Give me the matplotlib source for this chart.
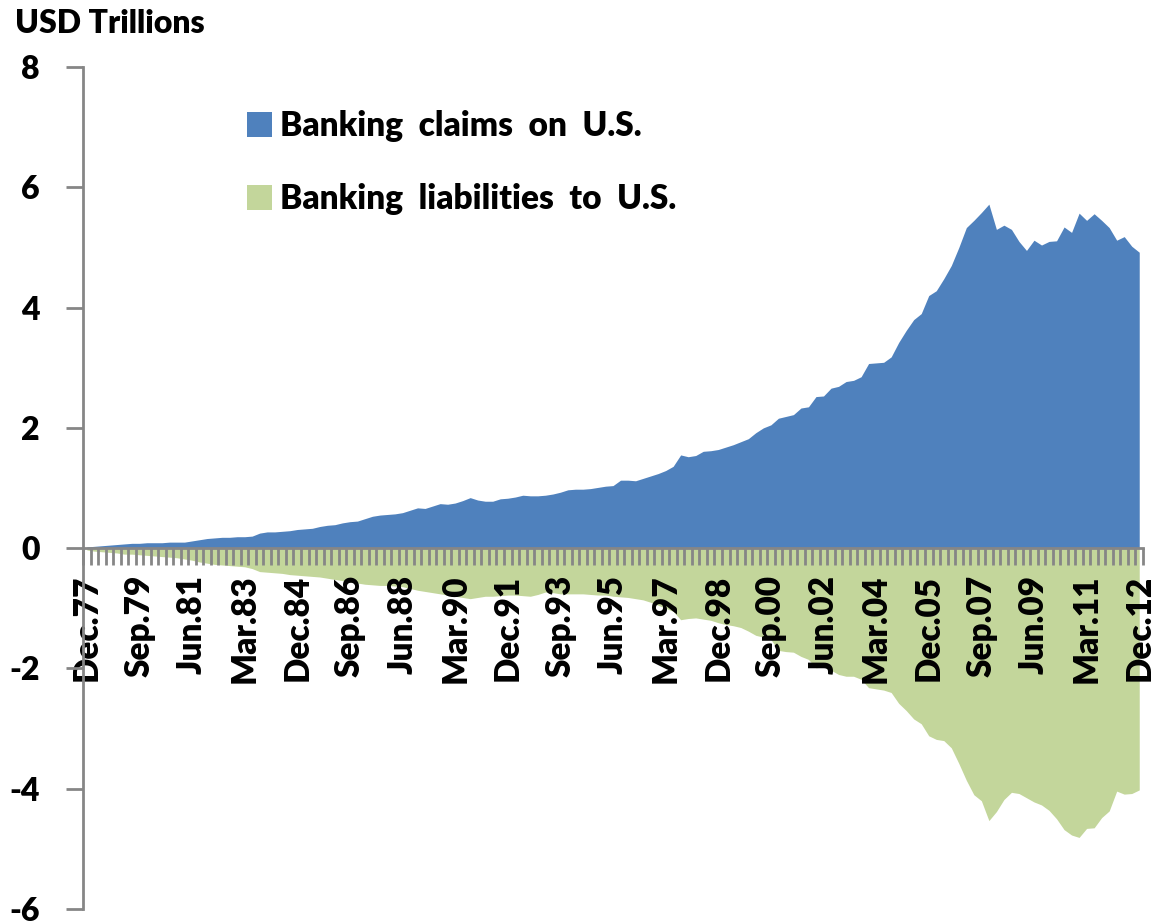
import numpy as np
import matplotlib
matplotlib.use('Agg')
import matplotlib.pyplot as plt

# quarterly, Dec.77 .. Dec.12 (USD trillions)
claims = [
    0.02, 0.03, 0.04, 0.05, 0.06, 0.07, 0.08, 0.08, 0.09, 0.09,
    0.09, 0.10, 0.10, 0.10, 0.12, 0.14, 0.16, 0.17, 0.18, 0.18,
    0.19, 0.19, 0.20, 0.25, 0.27, 0.27, 0.28, 0.29, 0.31, 0.32,
    0.33, 0.36, 0.38, 0.39, 0.42, 0.44, 0.45, 0.49, 0.53, 0.55,
    0.56, 0.57, 0.59, 0.63, 0.67, 0.66, 0.70, 0.74, 0.73, 0.75,
    0.79, 0.84, 0.80, 0.78, 0.78, 0.82, 0.83, 0.85, 0.88, 0.87,
    0.87, 0.88, 0.90, 0.93, 0.97, 0.98, 0.98, 0.99, 1.01, 1.03,
    1.04, 1.13, 1.13, 1.12, 1.16, 1.20, 1.24, 1.29, 1.36, 1.55,
    1.52, 1.54, 1.61, 1.62, 1.64, 1.68, 1.72, 1.77, 1.82, 1.92,
    2.00, 2.05, 2.16, 2.19, 2.22, 2.33, 2.35, 2.52, 2.53, 2.66,
    2.69, 2.77, 2.79, 2.85, 3.07, 3.08, 3.09, 3.18, 3.42, 3.62,
    3.80, 3.90, 4.20, 4.28, 4.48, 4.70, 5.00, 5.33, 5.45, 5.58,
    5.72, 5.30, 5.37, 5.30, 5.10, 4.95, 5.12, 5.04, 5.10, 5.11,
    5.34, 5.25, 5.57, 5.45, 5.56, 5.45, 5.33, 5.12, 5.18, 5.02,
    4.92,
]
liabilities = [
    -0.03, -0.05, -0.06, -0.07, -0.08, -0.10, -0.10, -0.11, -0.12, -0.13,
    -0.14, -0.15, -0.16, -0.18, -0.20, -0.23, -0.25, -0.27, -0.28, -0.29,
    -0.30, -0.31, -0.34, -0.39, -0.40, -0.41, -0.42, -0.44, -0.45, -0.46,
    -0.47, -0.48, -0.50, -0.52, -0.54, -0.56, -0.58, -0.60, -0.61, -0.62,
    -0.62, -0.63, -0.64, -0.67, -0.70, -0.72, -0.74, -0.76, -0.78, -0.80,
    -0.82, -0.84, -0.82, -0.80, -0.80, -0.79, -0.78, -0.78, -0.79, -0.80,
    -0.77, -0.73, -0.74, -0.76, -0.76, -0.76, -0.76, -0.77, -0.78, -0.78,
    -0.80, -0.81, -0.82, -0.84, -0.86, -0.90, -0.95, -1.00, -1.05, -1.19,
    -1.17, -1.16, -1.18, -1.20, -1.24, -1.27, -1.29, -1.32, -1.38, -1.45,
    -1.48, -1.52, -1.70, -1.72, -1.73, -1.80, -1.85, -1.99, -1.97, -2.03,
    -2.10, -2.13, -2.13, -2.18, -2.32, -2.34, -2.36, -2.40, -2.58, -2.70,
    -2.84, -2.92, -3.12, -3.18, -3.20, -3.32, -3.58, -3.86, -4.10, -4.20,
    -4.53, -4.38, -4.18, -4.06, -4.08, -4.15, -4.22, -4.27, -4.36, -4.50,
    -4.68, -4.77, -4.81, -4.66, -4.65, -4.48, -4.37, -4.04, -4.09, -4.08,
    -4.02,
]
tick_labels = ['Dec.77', 'Sep.79', 'Jun.81', 'Mar.83', 'Dec.84', 'Sep.86',
               'Jun.88', 'Mar.90', 'Dec.91', 'Sep.93', 'Jun.95', 'Mar.97',
               'Dec.98', 'Sep.00', 'Jun.02', 'Mar.04', 'Dec.05', 'Sep.07',
               'Jun.09', 'Mar.11', 'Dec.12']
label_step = 7

BLUE = '#4F81BD'
GREEN = '#C3D69B'
GREY = '#868686'

plt.rcParams['font.family'] = ['Lato', 'DejaVu Sans']
plt.rcParams['font.weight'] = 'heavy'
plt.rcParams['axes.unicode_minus'] = False

x = np.arange(len(claims))

fig = plt.figure(figsize=(11.53, 9.23), dpi=100)
ax = fig.add_axes([83 / 1153, 1 - 909 / 923, 1060 / 1153, 842 / 923])

ax.fill_between(x, 0, claims, color=BLUE, linewidth=0,
                label='Banking  claims  on  U.S.')
ax.fill_between(x, 0, liabilities, color=GREEN, linewidth=0,
                label='Banking  liabilities  to  U.S.')

ax.set_xlim(-0.5, len(claims) - 0.5)
ax.set_ylim(-6, 8)

for side in ['top', 'right']:
    ax.spines[side].set_visible(False)
ax.spines['bottom'].set_position(('data', 0))
for side in ['left', 'bottom']:
    ax.spines[side].set_color(GREY)
    ax.spines[side].set_linewidth(2)

ax.set_yticks(np.arange(-6, 9, 2))
ax.tick_params(axis='y', length=12, width=2, color=GREY, pad=19,
               labelsize=23)

ax.set_xticks(np.arange(len(tick_labels)) * label_step)
ax.set_xticklabels(tick_labels, rotation=90, va='top', ha='center')
ax.set_xticks(np.arange(len(claims) + 1) - 0.5, minor=True)
ax.tick_params(axis='x', which='major', length=0, pad=19, labelsize=24)
ax.tick_params(axis='x', which='minor', length=12, width=2, color=GREY)

fig.text(15 / 1153, 1 - 9 / 923, 'USD Trillions', fontsize=23,
         ha='left', va='top')

ax.legend(loc='upper left', bbox_to_anchor=(247 / 1153, 1 - 110 / 923),
          bbox_transform=fig.transFigure, frameon=False, fontsize=24,
          handlelength=0.75, handleheight=0.78, handletextpad=0.25,
          labelspacing=1.24, borderpad=0, borderaxespad=0)

fig.savefig('out.png', dpi=100)
